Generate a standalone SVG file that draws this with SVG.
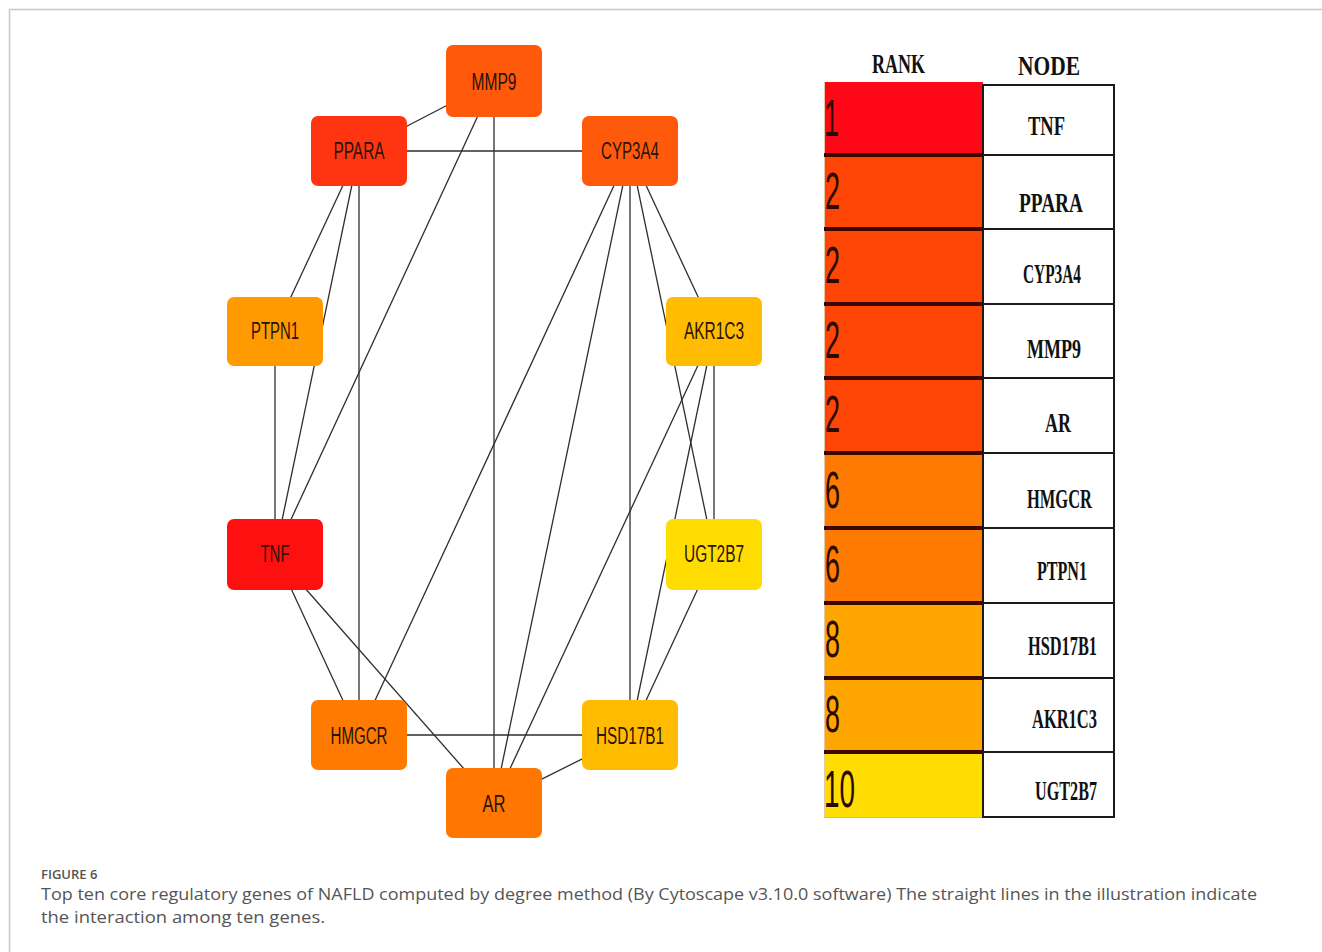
<svg xmlns="http://www.w3.org/2000/svg" width="1322" height="952" viewBox="0 0 1322 952">
  <defs>
    <style>
      .edge { stroke: #2e2e2e; stroke-width: 1.3; fill: none; }
      .node rect { rx: 7; ry: 7; }
      .nlabel { font-family: "Liberation Sans", Arial, sans-serif; font-size: 23px; fill: #2a1208; text-anchor: middle; }
      .hdr { font-family: "Liberation Serif", "Times New Roman", serif; font-weight: bold; font-size: 28px; fill: #111; }
      .cell { font-family: "Liberation Serif", "Times New Roman", serif; font-weight: bold; font-size: 28px; fill: #111; }
      .rank { font-family: "Liberation Sans", Arial, sans-serif; font-size: 52px; fill: #2a0a00; }
      .sepR { stroke: #3a0800; stroke-width: 4; }
      .sepN { stroke: #1a1a1a; stroke-width: 2; }
      .cap { font-family: "Open Sans", "Noto Sans", sans-serif; fill: #555; }
    </style>
  </defs>

  <rect width="1322" height="952" fill="#ffffff"/>

  <!-- page frame -->
  <path d="M9.5 952 V9.5 H1322" stroke="#c8c8c8" stroke-width="1.5" fill="none"/>

  <!-- interaction lines -->
  <g id="edges">
    <line class="edge" x1="494" y1="81" x2="359" y2="151"/>
    <line class="edge" x1="359" y1="151" x2="630" y2="151"/>
    <line class="edge" x1="494" y1="81" x2="494" y2="803"/>
    <line class="edge" x1="494" y1="81" x2="275" y2="554"/>
    <line class="edge" x1="359" y1="151" x2="275" y2="331"/>
    <line class="edge" x1="359" y1="151" x2="275" y2="554"/>
    <line class="edge" x1="359" y1="151" x2="359" y2="735"/>
    <line class="edge" x1="275" y1="331" x2="275" y2="554"/>
    <line class="edge" x1="630" y1="151" x2="359" y2="735"/>
    <line class="edge" x1="630" y1="151" x2="494" y2="803"/>
    <line class="edge" x1="630" y1="151" x2="630" y2="735"/>
    <line class="edge" x1="630" y1="151" x2="714" y2="554"/>
    <line class="edge" x1="630" y1="151" x2="714" y2="331"/>
    <line class="edge" x1="714" y1="331" x2="714" y2="554"/>
    <line class="edge" x1="714" y1="331" x2="494" y2="803"/>
    <line class="edge" x1="714" y1="331" x2="630" y2="735"/>
    <line class="edge" x1="630" y1="735" x2="714" y2="554"/>
    <line class="edge" x1="275" y1="554" x2="359" y2="735"/>
    <line class="edge" x1="275" y1="554" x2="494" y2="803"/>
    <line class="edge" x1="359" y1="735" x2="630" y2="735"/>
    <line class="edge" x1="630" y1="735" x2="494" y2="803"/>
  </g>

  <!-- gene nodes -->
  <g id="node-MMP9" class="node">
    <rect x="446" y="45" width="96" height="72" fill="#FF5A0C"/>
    <text class="nlabel" x="494" y="90" textLength="45" lengthAdjust="spacingAndGlyphs">MMP9</text>
  </g>
  <g id="node-PPARA" class="node">
    <rect x="311" y="116" width="96" height="70" fill="#FF3512"/>
    <text class="nlabel" x="359" y="159" textLength="51" lengthAdjust="spacingAndGlyphs">PPARA</text>
  </g>
  <g id="node-CYP3A4" class="node">
    <rect x="582" y="116" width="96" height="70" fill="#FF5A0C"/>
    <text class="nlabel" x="630" y="159" textLength="58" lengthAdjust="spacingAndGlyphs">CYP3A4</text>
  </g>
  <g id="node-PTPN1" class="node">
    <rect x="227" y="297" width="96" height="69" fill="#FF9A00"/>
    <text class="nlabel" x="275" y="339" textLength="48" lengthAdjust="spacingAndGlyphs">PTPN1</text>
  </g>
  <g id="node-AKR1C3" class="node">
    <rect x="666" y="297" width="96" height="69" fill="#FFBC00"/>
    <text class="nlabel" x="714" y="339" textLength="60" lengthAdjust="spacingAndGlyphs">AKR1C3</text>
  </g>
  <g id="node-TNF" class="node">
    <rect x="227" y="519" width="96" height="71" fill="#FF1010"/>
    <text class="nlabel" x="275" y="562" textLength="29" lengthAdjust="spacingAndGlyphs">TNF</text>
  </g>
  <g id="node-UGT2B7" class="node">
    <rect x="666" y="519" width="96" height="71" fill="#FFDD00"/>
    <text class="nlabel" x="714" y="562" textLength="60" lengthAdjust="spacingAndGlyphs">UGT2B7</text>
  </g>
  <g id="node-HMGCR" class="node">
    <rect x="311" y="700" width="96" height="70" fill="#FF7A00"/>
    <text class="nlabel" x="359" y="744" textLength="57" lengthAdjust="spacingAndGlyphs">HMGCR</text>
  </g>
  <g id="node-HSD17B1" class="node">
    <rect x="582" y="700" width="96" height="70" fill="#FFBB00"/>
    <text class="nlabel" x="630" y="744" textLength="68" lengthAdjust="spacingAndGlyphs">HSD17B1</text>
  </g>
  <g id="node-AR" class="node">
    <rect x="446" y="768" width="96" height="70" fill="#FF7700"/>
    <text class="nlabel" x="494" y="812" textLength="23" lengthAdjust="spacingAndGlyphs">AR</text>
  </g>

  <!-- ranking table -->
  <g id="rank-table">
    <text class="hdr" x="872" y="73" textLength="53" lengthAdjust="spacingAndGlyphs">RANK</text>
    <text class="hdr" x="1018" y="75" textLength="62" lengthAdjust="spacingAndGlyphs">NODE</text>

    <!-- rank colour cells -->
    <rect x="824" y="82" width="159" height="73" fill="#FF0716"/>
    <rect x="824" y="155" width="159" height="298" fill="#FF4505"/>
    <rect x="824" y="453" width="159" height="150" fill="#FF7A00"/>
    <rect x="824" y="603" width="159" height="149" fill="#FFA500"/>
    <rect x="824" y="752" width="159" height="65" fill="#FFDD00"/>
    <line x1="824" y1="817.5" x2="983" y2="817.5" stroke="#bbb" stroke-width="1"/>
    <line x1="824.5" y1="82" x2="824.5" y2="817" stroke="#e6c8a0" stroke-width="1"/>

    <!-- node name cells -->
    <rect x="983" y="85" width="131" height="732" fill="#fff" stroke="#1a1a1a" stroke-width="2"/>

    <!-- row separators -->
    <g class="sepR">
      <line x1="824" y1="155" x2="983" y2="155"/>
      <line x1="824" y1="229" x2="983" y2="229"/>
      <line x1="824" y1="304" x2="983" y2="304"/>
      <line x1="824" y1="378" x2="983" y2="378"/>
      <line x1="824" y1="453" x2="983" y2="453"/>
      <line x1="824" y1="528" x2="983" y2="528"/>
      <line x1="824" y1="603" x2="983" y2="603"/>
      <line x1="824" y1="678" x2="983" y2="678"/>
      <line x1="824" y1="752" x2="983" y2="752"/>
    </g>
    <g class="sepN">
      <line x1="983" y1="155" x2="1114" y2="155"/>
      <line x1="983" y1="229" x2="1114" y2="229"/>
      <line x1="983" y1="304" x2="1114" y2="304"/>
      <line x1="983" y1="378" x2="1114" y2="378"/>
      <line x1="983" y1="453" x2="1114" y2="453"/>
      <line x1="983" y1="528" x2="1114" y2="528"/>
      <line x1="983" y1="603" x2="1114" y2="603"/>
      <line x1="983" y1="678" x2="1114" y2="678"/>
      <line x1="983" y1="752" x2="1114" y2="752"/>
    </g>

    <!-- rank numbers -->
    <text class="rank" x="824" y="136" textLength="15" lengthAdjust="spacingAndGlyphs">1</text>
    <text class="rank" x="825" y="209" textLength="15" lengthAdjust="spacingAndGlyphs">2</text>
    <text class="rank" x="825" y="283" textLength="15" lengthAdjust="spacingAndGlyphs">2</text>
    <text class="rank" x="825" y="358" textLength="15" lengthAdjust="spacingAndGlyphs">2</text>
    <text class="rank" x="825" y="432" textLength="15" lengthAdjust="spacingAndGlyphs">2</text>
    <text class="rank" x="825" y="508" textLength="15" lengthAdjust="spacingAndGlyphs">6</text>
    <text class="rank" x="825" y="582" textLength="15" lengthAdjust="spacingAndGlyphs">6</text>
    <text class="rank" x="825" y="657" textLength="15" lengthAdjust="spacingAndGlyphs">8</text>
    <text class="rank" x="825" y="732" textLength="15" lengthAdjust="spacingAndGlyphs">8</text>
    <text class="rank" x="824" y="807" textLength="31" lengthAdjust="spacingAndGlyphs">10</text>

    <!-- node names -->
    <text class="cell" x="1028" y="135" textLength="37" lengthAdjust="spacingAndGlyphs">TNF</text>
    <text class="cell" x="1019" y="212" textLength="64" lengthAdjust="spacingAndGlyphs">PPARA</text>
    <text class="cell" x="1023" y="283" textLength="58" lengthAdjust="spacingAndGlyphs">CYP3A4</text>
    <text class="cell" x="1027" y="358" textLength="54" lengthAdjust="spacingAndGlyphs">MMP9</text>
    <text class="cell" x="1045" y="432" textLength="26" lengthAdjust="spacingAndGlyphs">AR</text>
    <text class="cell" x="1027" y="508" textLength="65" lengthAdjust="spacingAndGlyphs">HMGCR</text>
    <text class="cell" x="1037" y="580" textLength="50" lengthAdjust="spacingAndGlyphs">PTPN1</text>
    <text class="cell" x="1028" y="655" textLength="69" lengthAdjust="spacingAndGlyphs">HSD17B1</text>
    <text class="cell" x="1032" y="728" textLength="65" lengthAdjust="spacingAndGlyphs">AKR1C3</text>
    <text class="cell" x="1035" y="800" textLength="62" lengthAdjust="spacingAndGlyphs">UGT2B7</text>
  </g>

  <!-- caption -->
  <g id="caption">
    <text class="cap" x="41" y="879" font-size="13" font-weight="600" fill="#5a5a5a">FIGURE 6</text>
    <text class="cap" x="41" y="900" font-size="16" textLength="1216" lengthAdjust="spacingAndGlyphs">Top ten core regulatory genes of NAFLD computed by degree method (By Cytoscape v3.10.0 software) The straight lines in the illustration indicate</text>
    <text class="cap" x="41" y="923" font-size="16" textLength="284" lengthAdjust="spacingAndGlyphs">the interaction among ten genes.</text>
  </g>
</svg>
